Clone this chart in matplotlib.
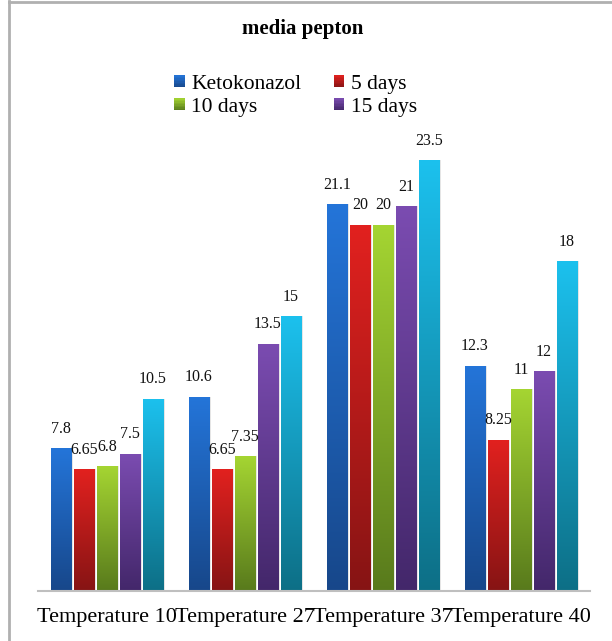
import numpy as np
import matplotlib
matplotlib.use("Agg")
import matplotlib.pyplot as plt
from matplotlib.colors import LinearSegmentedColormap
from matplotlib.patches import Rectangle
from matplotlib.lines import Line2D
from matplotlib.legend_handler import HandlerBase

categories = ["Temperature 10", "Temperature 27", "Temperature 37", "Temperature 40"]
series_names = ["Ketokonazol", "5 days", "10 days", "15 days", ""]
ketokonazol = [7.8, 10.6, 21.1, 12.3]
days_5 = [6.65, 6.65, 20, 8.25]
days_10 = [6.8, 7.35, 20, 11]
days_15 = [7.5, 13.5, 21, 12]
series_5 = [10.5, 15, 23.5, 18]
value_labels = [
    ["7.8", "10.6", "21.1", "12.3"],
    ["6.65", "6.65", "20", "8.25"],
    ["6.8", "7.35", "20", "11"],
    ["7.5", "13.5", "21", "12"],
    ["10.5", "15", "23.5", "18"],
]
series = [ketokonazol, days_5, days_10, days_15, series_5]

top_colors = ["#2475D9", "#E2211F", "#A5D532", "#7B4CB1", "#1CC1EE"]
bot_colors = ["#17478A", "#861414", "#587A1C", "#43276A", "#0D6F86"]

plt.rcParams['font.family'] = ['Liberation Serif', 'DejaVu Serif']

fig = plt.figure(figsize=(6.12, 6.41), dpi=100)
W, H = 612, 641
ax = fig.add_axes([38 / W, 1 - 591 / H, 552 / W, (591 - 133) / H])

x = np.arange(len(categories))
step = 0.1667
width = 0.145
offsets = (np.arange(5) - 2) * step

grad = np.linspace(1, 0, 256).reshape(-1, 1)
for i, vals in enumerate(series):
    cmap = LinearSegmentedColormap.from_list(f"g{i}", [bot_colors[i], top_colors[i]])
    xs = x + offsets[i]
    # shadow
    ax.bar(xs + 0.012, vals, width, color="#000000", alpha=0.10, zorder=1, linewidth=0)
    bars = ax.bar(xs, vals, width, color=top_colors[i], linewidth=0, zorder=2)
    for b, lab in zip(bars, value_labels[i]):
        bx, bw, bh = b.get_x(), b.get_width(), b.get_height()
        im = ax.imshow(grad, cmap=cmap, extent=(bx, bx + bw, 0, bh), aspect='auto',
                       zorder=3, interpolation='bicubic')
        im.set_clip_path(b)
        ax.annotate(lab, (bx + bw / 2, bh), xytext=(0, 14), textcoords='offset points',
                    ha='center', va='center', fontsize=11.5, color='#111111', zorder=5)

ax.set_xlim(-0.5, 3.5)
ax.set_ylim(0, 25)
ax.set_xticks(x)
ax.set_xticklabels(categories, fontsize=16)
ax.tick_params(axis='x', length=0, pad=12)
ax.set_yticks([])
for s in ['top', 'right', 'left']:
    ax.spines[s].set_visible(False)
ax.spines['bottom'].set_color('#BFBFBF')
ax.spines['bottom'].set_linewidth(1.5)
ax.spines['bottom'].set_zorder(6)


class GradHandler(HandlerBase):
    def __init__(self, top, bot):
        super().__init__()
        self.top, self.bot = top, bot

    def create_artists(self, legend, orig_handle, xdescent, ydescent, width, height, fontsize, trans):
        cmap = LinearSegmentedColormap.from_list("h", [self.bot, self.top])
        n = 8
        arts = []
        for k in range(n):
            r = Rectangle((-xdescent, -ydescent + height * k / n), width, height / n + 0.05,
                          facecolor=cmap((k + 0.5) / n), edgecolor='none', transform=trans)
            arts.append(r)
        return arts


handles = [Rectangle((0, 0), 1, 1) for _ in range(4)]
hmap = {h: GradHandler(top_colors[i], bot_colors[i]) for i, h in enumerate(handles)}
order = [0, 2, 1, 3]
fig.legend([handles[k] for k in order], [series_names[k] for k in order], loc='upper left',
           bbox_to_anchor=(174 / W, 1 - 75 / H),
           ncol=2, frameon=False, fontsize=15.5, handlelength=0.5, handleheight=0.5,
           handletextpad=0.3, columnspacing=1.5, labelspacing=0.18, handler_map=hmap,
           borderaxespad=0, borderpad=0)

fig.text(303 / W, 1 - 29 / H, "media pepton", ha='center', va='center', fontsize=15,
         fontweight='bold')

# chart border (left and top visible)
fig.add_artist(Line2D([8.5 / W, 8.5 / W], [0, 1 - 1 / H], color='#B0B0B0', lw=2,
                      transform=fig.transFigure))
fig.add_artist(Line2D([8.5 / W, 1], [1 - 1.5 / H, 1 - 1.5 / H], color='#B0B0B0', lw=2,
                      transform=fig.transFigure))

fig.savefig("out.png", dpi=100)
